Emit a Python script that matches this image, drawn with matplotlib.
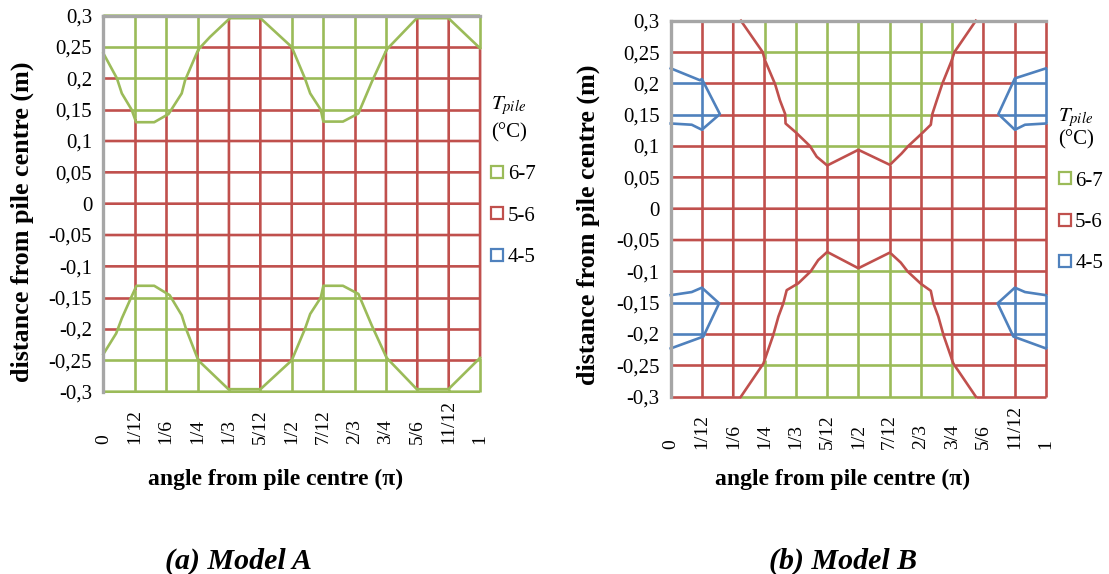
import numpy as np
import matplotlib
matplotlib.use("Agg")
import matplotlib.pyplot as plt
from matplotlib.lines import Line2D
from matplotlib.path import Path

plt.rcParams["font.family"] = ["Liberation Serif", "DejaVu Serif"]
plt.rcParams["mathtext.fontset"] = "stix"

# ---- axes ----
ANGLE_TICKS = [0, 1/12, 2/12, 3/12, 4/12, 5/12, 6/12, 7/12, 8/12, 9/12, 10/12, 11/12, 1]
ANGLE_LABELS = ["0", "1/12", "1/6", "1/4", "1/3", "5/12", "1/2",
                "7/12", "2/3", "3/4", "5/6", "11/12", "1"]
DIST_TICKS = [0.3, 0.25, 0.2, 0.15, 0.1, 0.05, 0, -0.05, -0.1, -0.15, -0.2, -0.25, -0.3]
DIST_LABELS = ["0,3", "0,25", "0,2", "0,15", "0,1", "0,05", "0",
               "-0,05", "-0,1", "-0,15", "-0,2", "-0,25", "-0,3"]

BANDS = ["6-7", "5-6", "4-5"]
BAND_COLORS = {"6-7": "#9BBB59", "5-6": "#C0504D", "4-5": "#4F81BD"}

# ---- Model A: 6-7 / 5-6 boundary (angle, distance) ----
A_TOP_ANGLE = [0, 0.036, 0.049, 0.075, 0.087, 0.135, 0.173, 0.208, 0.217, 0.252, 0.283,
               0.336, 0.417, 0.500, 0.535, 0.549, 0.577, 0.584, 0.636, 0.677, 0.713,
               0.752, 0.832, 0.916, 1.0]
A_TOP_DIST = [0.240, 0.200, 0.176, 0.150, 0.130, 0.130, 0.143, 0.176, 0.197, 0.246, 0.266,
              0.296, 0.296, 0.250, 0.200, 0.176, 0.150, 0.131, 0.131, 0.144, 0.195,
              0.246, 0.296, 0.296, 0.248]
A_BOT_ANGLE = [0, 0.034, 0.049, 0.075, 0.088, 0.135, 0.176, 0.208, 0.219, 0.252, 0.332,
               0.417, 0.500, 0.535, 0.549, 0.577, 0.584, 0.636, 0.677, 0.713, 0.752,
               0.832, 0.916, 1.0]
A_BOT_DIST = [-0.240, -0.207, -0.183, -0.148, -0.131, -0.131, -0.146, -0.178, -0.199, -0.250,
              -0.296, -0.296, -0.250, -0.200, -0.176, -0.150, -0.131, -0.131, -0.144,
              -0.195, -0.246, -0.296, -0.296, -0.246]

# ---- Model B: 6-7 / 5-6 boundary ----
B_TOP_ANGLE = [0.187, 0.245, 0.251, 0.278, 0.291, 0.305, 0.306, 0.333, 0.371, 0.389, 0.417,
               0.500, 0.584, 0.615, 0.633, 0.669, 0.693, 0.697, 0.709, 0.724, 0.749,
               0.756, 0.813]
B_TOP_DIST = [0.300, 0.250, 0.237, 0.199, 0.173, 0.151, 0.136, 0.122, 0.100, 0.083, 0.069,
              0.094, 0.070, 0.088, 0.100, 0.120, 0.134, 0.151, 0.173, 0.200, 0.237,
              0.250, 0.300]
B_BOT_ANGLE = [0.187, 0.247, 0.273, 0.287, 0.300, 0.309, 0.340, 0.373, 0.393, 0.417, 0.500,
               0.584, 0.613, 0.631, 0.667, 0.693, 0.700, 0.713, 0.727, 0.753, 0.813]
B_BOT_DIST = [-0.300, -0.247, -0.202, -0.172, -0.151, -0.130, -0.119, -0.100, -0.082, -0.069,
              -0.095, -0.070, -0.086, -0.100, -0.120, -0.131, -0.151, -0.172, -0.202,
              -0.247, -0.300]

# ---- Model B: 4-5 / 5-6 boundaries (four corner pockets) ----
B_BLUE_TL_ANGLE = [0, 0.078, 0.083, 0.131, 0.083, 0.056, 0]
B_BLUE_TL_DIST = [0.224, 0.205, 0.207, 0.151, 0.126, 0.134, 0.136]
B_BLUE_TR_ANGLE = [1, 0.917, 0.873, 0.917, 0.944, 1]
B_BLUE_TR_DIST = [0.224, 0.208, 0.151, 0.126, 0.134, 0.136]
B_BLUE_BL_ANGLE = [0, 0.056, 0.083, 0.129, 0.087, 0.078, 0]
B_BLUE_BL_DIST = [-0.138, -0.133, -0.126, -0.151, -0.204, -0.206, -0.223]
B_BLUE_BR_ANGLE = [1, 0.944, 0.917, 0.871, 0.913, 1]
B_BLUE_BR_DIST = [-0.138, -0.133, -0.126, -0.151, -0.204, -0.223]


def region(xs, ys, side):
    """Close a boundary curve against the plot edge on the given side."""
    def push(x, y):
        if x <= 0:
            x -= 0.05
        elif x >= 1:
            x += 0.05
        if y >= 0.3:
            y += 0.05
        elif y <= -0.3:
            y -= 0.05
        return (x, y)
    s = push(xs[0], ys[0])
    e = push(xs[-1], ys[-1])
    corner = {
        "top":    [(e[0], 0.35), (s[0], 0.35)],
        "bottom": [(e[0], -0.35), (s[0], -0.35)],
        "left":   [(-0.05, e[1]), (-0.05, s[1])],
        "right":  [(1.05, e[1]), (1.05, s[1])],
    }[side]
    verts = [s] + list(zip(xs, ys)) + [e] + corner
    verts.append(verts[0])
    return Path(np.array(verts))


def classify(pts, regions):
    out = np.array(["5-6"] * len(pts), dtype=object)
    for path, band in regions:
        out[path.contains_points(pts)] = band
    return out


def draw_runs(ax, pts, regions):
    bands = classify(pts, regions)
    change = np.nonzero(bands[1:] != bands[:-1])[0]
    starts = [0] + (change + 1).tolist()
    ends = change.tolist() + [len(pts) - 1]
    for s, e in zip(starts, ends):
        seg = pts[s:min(e + 2, len(pts))]
        ax.plot(seg[:, 0], seg[:, 1], color=BAND_COLORS[bands[s]], lw=1.9,
                solid_capstyle="butt", clip_on=False, zorder=2)


def draw_panel(ax, regions, curves):
    n = 1500
    ys = np.linspace(-0.3, 0.3, n)
    xs = np.linspace(0, 1, n)
    for a in ANGLE_TICKS:
        draw_runs(ax, np.column_stack([np.full(n, a), ys]), regions)
    for d in DIST_TICKS:
        draw_runs(ax, np.column_stack([xs, np.full(n, d)]), regions)
    for cx, cy, band in curves:
        ax.plot(cx, cy, color=BAND_COLORS[band], lw=1.9, clip_on=False, zorder=3,
                solid_joinstyle="round")

    ax.set_xlim(0, 1)
    ax.set_ylim(-0.3, 0.3)
    ax.set_xticks(ANGLE_TICKS)
    ax.set_xticklabels(ANGLE_LABELS, rotation=90, fontsize=14)
    for lbl in ax.get_xticklabels():
        lbl.set_va("bottom")
    ax.set_yticks(DIST_TICKS)
    ax.set_yticklabels(DIST_LABELS, fontsize=15)
    ax.tick_params(axis="x", length=0, pad=38)
    ax.tick_params(axis="y", length=0, pad=8)
    for side in ("right", "bottom"):
        ax.spines[side].set_visible(False)
    for side in ("top", "left"):
        ax.spines[side].set_color("#A6A6A6")
        ax.spines[side].set_linewidth(2.4)
        ax.spines[side].set_zorder(5)


def add_legend(ax, fig, x, y, title_spacing):
    handles = [Line2D([], [], marker="s", linestyle="none", markerfacecolor="white",
                      markeredgecolor=BAND_COLORS[b], markersize=8, markeredgewidth=1.6)
               for b in BANDS]
    leg = ax.legend(handles, BANDS, title="$T_{pile}$\n(°C)", loc="upper left",
                    bbox_to_anchor=(x, y), bbox_transform=fig.transFigure, frameon=False,
                    alignment="left", handlelength=0.6, handletextpad=0.2,
                    labelspacing=1.05, fontsize=15, title_fontsize=15, borderpad=0,
                    borderaxespad=0)
    leg.get_title().set_linespacing(title_spacing)


fig = plt.figure(figsize=(11.09, 5.74), dpi=100)
ax_a = fig.add_axes([0.0932, 0.3176, 0.3397, 0.6551])
ax_b = fig.add_axes([0.6048, 0.3089, 0.3384, 0.6550])

regions_a = [(region(A_TOP_ANGLE, A_TOP_DIST, "top"), "6-7"),
             (region(A_BOT_ANGLE, A_BOT_DIST, "bottom"), "6-7")]
curves_a = [(A_TOP_ANGLE, A_TOP_DIST, "6-7"), (A_BOT_ANGLE, A_BOT_DIST, "6-7")]
draw_panel(ax_a, regions_a, curves_a)

blue_sets = [(B_BLUE_TL_ANGLE, B_BLUE_TL_DIST, "left"),
             (B_BLUE_BL_ANGLE, B_BLUE_BL_DIST, "left"),
             (B_BLUE_TR_ANGLE, B_BLUE_TR_DIST, "right"),
             (B_BLUE_BR_ANGLE, B_BLUE_BR_DIST, "right")]
regions_b = [(region(B_TOP_ANGLE, B_TOP_DIST, "top"), "6-7"),
             (region(B_BOT_ANGLE, B_BOT_DIST, "bottom"), "6-7")]
regions_b += [(region(bx, by, side), "4-5") for bx, by, side in blue_sets]
curves_b = [(B_TOP_ANGLE, B_TOP_DIST, "5-6"), (B_BOT_ANGLE, B_BOT_DIST, "5-6")]
curves_b += [(bx, by, "4-5") for bx, by, _ in blue_sets]
draw_panel(ax_b, regions_b, curves_b)

add_legend(ax_a, fig, 491 / 1109, 1 - 94 / 574, 1.45)
add_legend(ax_b, fig, 1058.5 / 1109, 1 - 106 / 574, 1.05)

lab = dict(fontsize=17, fontweight="bold", ha="center", va="center")
fig.text(276 / 1109, 1 - 479 / 574, "angle from pile centre (π)", **lab)
fig.text(843 / 1109, 1 - 479 / 574, "angle from pile centre (π)", **lab)
ylab = dict(lab, fontsize=18.8)
fig.text(22 / 1109, 1 - 222 / 574, "distance from pile centre (m)", rotation=90, **ylab)
fig.text(588 / 1109, 1 - 225 / 574, "distance from pile centre (m)", rotation=90, **ylab)

cap = dict(fontsize=21.5, fontweight="bold", fontstyle="italic", ha="center", va="center")
fig.text(238 / 1109, 1 - 561 / 574, "(a) Model A", **cap)
fig.text(843 / 1109, 1 - 561 / 574, "(b) Model B", **cap)

fig.savefig("out.png", dpi=100)
